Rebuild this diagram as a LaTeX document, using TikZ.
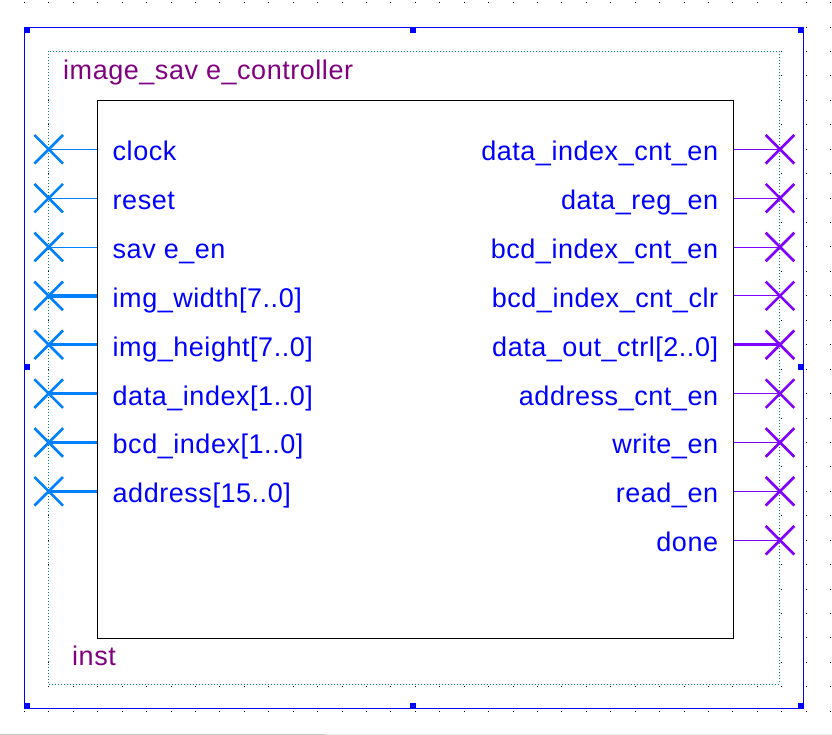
\documentclass[tikz,border=0pt]{standalone}
\usepackage{fontspec}
\setmainfont{Liberation Sans}
\newfontfamily\pinfont[LetterSpace=2.0]{Liberation Sans}
\usetikzlibrary{shapes.misc}

\definecolor{frameblue}{RGB}{0,0,255}
\definecolor{insttext}{RGB}{128,0,128}
\definecolor{pintext}{RGB}{0,0,255}
\definecolor{inpin}{RGB}{0,128,255}
\definecolor{outpin}{RGB}{128,0,255}
\definecolor{dotteal}{RGB}{0,128,128}
\definecolor{barleft}{RGB}{200,200,200}
\definecolor{barright}{RGB}{240,240,240}

\tikzset{
  gridpt/.style={fill=black},
  handle/.style={fill=frameblue},
  pinlabel/.style={text=pintext, inner sep=0pt, font=\pinfont\fontsize{27}{30}\selectfont},
  instlabel/.style={text=insttext, inner sep=0pt, font=\pinfont\fontsize{27}{30}\selectfont},
  inx/.style={cross out, draw=inpin, line width=2.6pt, minimum size=26pt, inner sep=0pt},
  outx/.style={cross out, draw=outpin, line width=2.6pt, minimum size=26pt, inner sep=0pt},
  inwire/.style={draw=inpin, line width=1pt},
  inbus/.style={draw=inpin, line width=3.4pt},
  outwire/.style={draw=outpin, line width=1pt},
  outbus/.style={draw=outpin, line width=3.4pt},
}

\begin{document}
\begin{tikzpicture}[x=1pt, y=-1pt]
  \useasboundingbox (0,0) rectangle (832,735);

  % editor grid
  \foreach \i in {1,...,34}
    \foreach \j in {0,...,29}
      \fill[gridpt] ({\i*24.43-0.5},{2.7+\j*24.43-0.5}) rectangle ++(1,1);

  % symbol area (white) with dotted outline
  \fill[white] (48.5,51.5) rectangle (779.3,684);
  \draw[dotteal, line width=1pt, dash pattern=on 1pt off 2pt] (48.5,51.5) rectangle (779.3,684);

  % selection frame and its handles
  \draw[frameblue, line width=1pt] (24.7,27.5) rectangle (803.3,708.3);
  \fill[handle] (24.5,27.5) rectangle (30,33);
  \fill[handle] (410,27.5) rectangle (415.7,33);
  \fill[handle] (797.5,27.5) rectangle (803.3,33);
  \fill[handle] (24.5,363.5) rectangle (30,369.5);
  \fill[handle] (797.5,364) rectangle (803.3,370);
  \fill[handle] (24.5,702.5) rectangle (30,708.3);
  \fill[handle] (410,702.5) rectangle (415.7,708.3);
  \fill[handle] (797.5,702.5) rectangle (803.3,708.3);

  % block body
  \node[draw=black, line width=1pt, minimum width=636pt, minimum height=538pt,
        inner sep=0pt, anchor=north west] (sym) at (97.3,100.3) {};

  \node[instlabel, anchor=base west] (title) at (63,79.3) {image\_sav e\_controller};
  \node[instlabel, anchor=base west] (inst) at (72,665) {inst};

  % input pins
  \foreach \k/\lab/\w in {0/clock/inwire, 1/reset/inwire, 2/sav e\_en/inwire,
      3/img\_width[7..0]/inbus, 4/img\_height[7..0]/inbus,
      5/data\_index[1..0]/inbus, 6/bcd\_index[1..0]/inbus,
      7/address[15..0]/inbus} {
    \node[inx] (in\k) at (48.7,{149.3+48.86*\k}) {};
    \draw[\w] (in\k.center) -- (in\k.center -| sym.west);
    \node[pinlabel, anchor=base west] (inl\k) at (112.5,{160.7+48.86*\k}) {\lab};
  }

  % output pins
  \foreach \k/\lab/\w in {0/data\_index\_cnt\_en/outwire, 1/data\_reg\_en/outwire,
      2/bcd\_index\_cnt\_en/outwire, 3/bcd\_index\_cnt\_clr/outwire,
      4/data\_out\_ctrl[2..0]/outbus, 5/address\_cnt\_en/outwire,
      6/write\_en/outwire, 7/read\_en/outwire, 8/done/outwire} {
    \node[outx] (out\k) at (780,{149.3+48.86*\k}) {};
    \draw[\w] (out\k.center -| sym.east) -- (out\k.center);
    \node[pinlabel, anchor=base east] (outl\k) at (718.3,{160.7+48.86*\k}) {\lab};
  }

  % window scrollbar strip
  \fill[barleft] (0,733.5) rectangle (326,735);
  \fill[barright] (326,733.5) rectangle (832,735);
\end{tikzpicture}
\end{document}
